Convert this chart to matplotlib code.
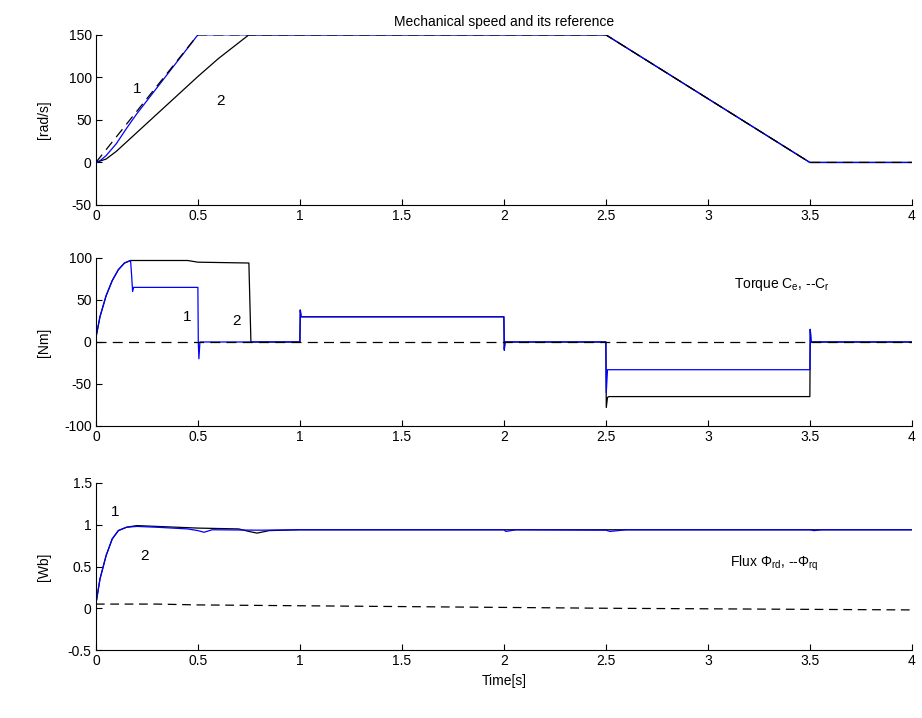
import matplotlib
matplotlib.use('Agg')
import matplotlib.pyplot as plt

plt.rcParams['font.family'] = ['Liberation Sans', 'DejaVu Sans']
plt.rcParams['mathtext.default'] = 'regular'
plt.rcParams['font.size'] = 10

# --- speed [rad/s] ---
t_ref = [0, 0.5, 2.5, 3.5, 4.0]
w_ref = [0, 150, 150, 0, 0]
t_w1 = [0, 0.02, 0.05, 0.1, 0.15, 0.2, 0.3, 0.4, 0.5, 2.5, 3.5, 4.0]
w1 = [0, 2, 8, 22, 40, 57, 88, 119, 150, 150, 0, 0]
t_w2 = [0, 0.05, 0.1, 0.2, 0.3, 0.4, 0.5, 0.6, 0.75, 2.5, 3.5, 4.0]
w2 = [0, 4, 13, 35, 57, 79, 101, 122, 150, 150, 0, 0]

# --- torque [Nm] ---
t_c1 = [0, 0.02, 0.05, 0.08, 0.11, 0.14, 0.17, 0.175, 0.18, 0.185, 0.5, 0.502,
        0.505, 0.51, 1.0, 1.002, 1.006, 1.01, 2.0, 2.002, 2.006, 2.01, 2.5,
        2.502, 2.508, 2.515, 3.5, 3.502, 3.506, 3.51, 4.0]
c1 = [5, 30, 55, 73, 86, 94, 97, 80, 60, 65, 65, 0,
      -20, 0, 0, 38, 30, 30, 30, -10, 0, 0, 0,
      -60, -33, -33, -33, 15, 0, 0, 0]
t_c2 = [0, 0.02, 0.05, 0.08, 0.11, 0.14, 0.17, 0.3, 0.45, 0.5, 0.75, 0.76,
        1.0, 1.002, 1.006, 1.01, 2.0, 2.002, 2.006, 2.01, 2.5,
        2.502, 2.508, 2.515, 3.5, 3.502, 3.506, 3.51, 4.0]
c2 = [5, 30, 55, 73, 86, 94, 97, 97, 97, 95, 94, 0,
      0, 38, 30, 30, 30, -8, 0, 0, 0,
      -78, -66, -65, -65, 15, 0, 0, 0]
t_cr = [0, 4.0]
cr = [0, 0]

# --- flux [Wb] ---
t_f1 = [0, 0.02, 0.05, 0.08, 0.11, 0.15, 0.2, 0.3, 0.45, 0.5, 0.53, 0.57,
        0.8, 1.0, 2.0, 2.01, 2.06, 2.5, 2.52, 2.6, 3.5, 3.52, 3.56, 4.0]
f1 = [0.05, 0.35, 0.63, 0.83, 0.93, 0.97, 0.98, 0.97, 0.95, 0.93, 0.91, 0.94,
      0.935, 0.94, 0.94, 0.92, 0.94, 0.935, 0.92, 0.94, 0.94, 0.93, 0.94, 0.94]
t_f2 = [0, 0.02, 0.05, 0.08, 0.11, 0.15, 0.2, 0.3, 0.5, 0.7, 0.75, 0.79,
        0.85, 1.0, 4.0]
f2 = [0.05, 0.35, 0.63, 0.83, 0.93, 0.97, 0.99, 0.98, 0.96, 0.95, 0.92, 0.9,
      0.93, 0.94, 0.94]
t_fq = [0, 0.3, 0.5, 1.0, 1.5, 2.5, 4.0]
fq = [0.05, 0.05, 0.04, 0.03, 0.02, 0.0, -0.02]

xticks = [0, 0.5, 1, 1.5, 2, 2.5, 3, 3.5, 4]
xticklabels = ['0', '0.5', '1', '1.5', '2', '2.5', '3', '3.5', '4']

fig = plt.figure(figsize=(9.22, 7.18), dpi=100)
left, width = 0.104, 0.885
ax1 = fig.add_axes([left, 0.7145, width, 0.237])
ax2 = fig.add_axes([left, 0.4067, width, 0.234])
ax3 = fig.add_axes([left, 0.0947, width, 0.2326])

def style(ax, yticks, ylabels, ylim, ylabel):
  ax.set_xlim(0, 4)
  ax.set_ylim(*ylim)
  ax.set_xticks(xticks)
  ax.set_xticklabels(xticklabels)
  ax.set_yticks(yticks)
  ax.set_yticklabels(ylabels)
  ax.spines['top'].set_visible(False)
  ax.spines['right'].set_visible(False)
  ax.tick_params(direction='in', length=4, width=0.8, pad=3)
  ax.set_ylabel(ylabel)
  ax.yaxis.set_label_coords(-0.055, 0.5)

lw = 0.9
dash = (0, (8, 5))
ax1.plot(t_w2, w2, color='black', lw=lw)
ax1.plot(t_w1, w1, color='blue', lw=lw)
ax1.plot(t_ref, w_ref, color='black', lw=lw, ls=dash)
style(ax1, [-50, 0, 50, 100, 150], ['-50', '0', '50', '100', '150'], (-50, 150), '[rad/s]')
ax1.set_title('Mechanical speed and its reference', fontsize=10, pad=6)
ax1.text(0.2, 86, '1', ha='center', va='center', fontsize=11)
ax1.text(0.61, 72, '2', ha='center', va='center', fontsize=11)

ax2.plot(t_c2, c2, color='black', lw=lw)
ax2.plot(t_c1, c1, color='blue', lw=lw)
ax2.plot(t_cr, cr, color='black', lw=lw, ls=dash)
style(ax2, [-100, -50, 0, 50, 100], ['-100', '-50', '0', '50', '100'], (-100, 100), '[Nm]')
ax2.text(0.445, 30, '1', ha='center', va='center', fontsize=11)
ax2.text(0.69, 25, '2', ha='center', va='center', fontsize=11)
ax2.text(3.13, 68, 'Torque C$_e$, --C$_r$', ha='left', va='center', fontsize=10)

ax3.plot(t_f2, f2, color='black', lw=lw)
ax3.plot(t_f1, f1, color='blue', lw=lw)
ax3.plot(t_fq, fq, color='black', lw=lw, ls=(0, (7, 4.5)))
style(ax3, [-0.5, 0, 0.5, 1, 1.5], ['-0.5', '0', '0.5', '1', '1.5'], (-0.5, 1.5), '[Wb]')
ax3.set_xlabel('Time[s]')
ax3.text(0.093, 1.15, '1', ha='center', va='center', fontsize=11)
ax3.text(0.237, 0.63, '2', ha='center', va='center', fontsize=11)
ax3.text(3.11, 0.54, 'Flux Φ$_{rd}$, --Φ$_{rq}$', ha='left', va='center', fontsize=10)

fig.savefig('out.png', dpi=100)
